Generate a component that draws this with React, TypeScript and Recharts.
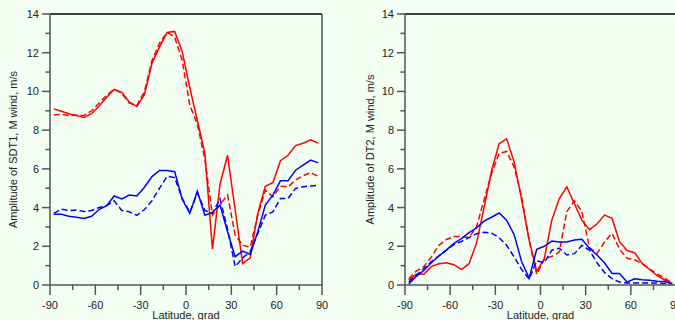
import React from 'react';
import { LineChart, Line, XAxis, YAxis, ReferenceLine } from 'recharts';

// latitude grid of the model output, grad
const latitudes = [
  -87.5, -82.5, -77.5, -72.5, -67.5, -62.5, -57.5, -52.5, -47.5, -42.5, -37.5, -32.5,
  -27.5, -22.5, -17.5, -12.5, -7.5, -2.5, 2.5, 7.5, 12.5, 17.5, 22.5, 27.5,
  32.5, 37.5, 42.5, 47.5, 52.5, 57.5, 62.5, 67.5, 72.5, 77.5, 82.5, 87.5,
];

// SDT1 amplitude, m/s
const sdt1RedSolid = [
  9.1, 8.98, 8.85, 8.75, 8.65, 8.85, 9.25, 9.7, 10.1, 9.95, 9.45, 9.22,
  9.85, 11.45, 12.3, 13.05, 13.1, 12.05, 10.2, 8.5, 6.8, 1.85, 5.2, 6.7,
  3.9, 1.1, 1.4, 3.7, 5.1, 5.28, 6.42, 6.7, 7.2, 7.32, 7.5, 7.33,
];
const sdt1RedDashed = [
  8.78, 8.82, 8.75, 8.78, 8.75, 9.0, 9.4, 9.8, 10.12, 9.9, 9.4, 9.28,
  10.0, 11.6, 12.5, 13.05, 12.8, 11.6, 9.3, 8.3, 6.5, 3.6, 4.15, 4.65,
  2.6, 2.05, 1.95, 3.6, 4.9, 4.55, 5.1, 5.07, 5.42, 5.65, 5.8, 5.62,
];
const sdt1BlueSolid = [
  3.65, 3.65, 3.55, 3.5, 3.44, 3.55, 3.9, 4.1, 4.6, 4.45, 4.65, 4.6,
  5.05, 5.6, 5.92, 5.92, 5.85, 4.43, 3.7, 4.85, 3.6, 3.75, 4.13, 2.75,
  1.46, 1.75, 1.58, 2.75, 4.13, 4.64, 5.38, 5.38, 5.93, 6.19, 6.45, 6.31,
];
const sdt1BlueDashed = [
  3.7, 3.92, 3.85, 3.87, 3.8, 3.85, 4.0, 4.1, 4.35, 3.85, 3.78, 3.6,
  3.9, 4.35, 5.0, 5.62, 5.55, 4.47, 3.75, 4.75, 3.85, 3.7, 4.45, 2.9,
  0.95, 1.4, 1.72, 2.66, 3.61, 3.78, 4.47, 4.47, 4.99, 5.07, 5.12, 5.15,
];

// DT2 amplitude, m/s
const dt2RedSolid = [
  0.25, 0.55, 0.55, 0.95, 1.1, 1.15, 1.05, 0.8, 1.1, 2.15, 4.0, 5.9,
  7.3, 7.55, 6.35, 4.4, 2.3, 0.7, 1.35, 3.35, 4.47, 5.07, 4.2, 3.35,
  2.86, 3.15, 3.61, 3.44, 2.24, 1.78, 1.67, 1.12, 0.8, 0.48, 0.26, 0.08,
];
const dt2RedDashed = [
  0.32, 0.72, 0.95, 1.45, 2.05, 2.35, 2.5, 2.5, 2.45, 3.0, 4.4, 5.75,
  6.8, 6.9, 6.1, 4.55, 2.3, 0.55, 1.35, 1.48, 1.7, 3.8, 4.35, 3.8,
  1.95, 1.62, 2.22, 2.67, 1.85, 1.38, 1.3, 1.1, 0.82, 0.58, 0.35, 0.1,
];
const dt2BlueSolid = [
  0.05, 0.45, 0.75, 1.15, 1.5, 1.8, 2.15, 2.4, 2.7, 2.95, 3.3, 3.5,
  3.72, 3.35, 2.6, 1.2, 0.35, 1.85, 2.0, 2.27, 2.22, 2.22, 2.32, 2.36,
  1.9, 1.55, 1.15, 0.6, 0.6, 0.15, 0.32, 0.27, 0.25, 0.2, 0.18, 0.05,
];
const dt2BlueDashed = [
  0.15, 0.5, 0.85, 1.2, 1.5, 1.8, 2.1, 2.25, 2.45, 2.65, 2.72, 2.68,
  2.45, 2.05, 1.45, 0.8, 0.3, 1.25, 1.15, 1.8, 1.9, 1.55, 1.62, 2.05,
  1.8, 1.15, 0.65, 0.33, 0.15, 0.1, 0.1, 0.1, 0.1, 0.1, 0.08, 0.05,
];

const xTicks = [-90, -75, -60, -45, -30, -15, 0, 15, 30, 45, 60, 75, 90];
const yTicks = [0, 1, 2, 3, 4, 5, 6, 7, 8, 9, 10, 11, 12, 13, 14];

const FONT = '"Liberation Sans", Arial, sans-serif';
const AXIS = '#555';
const TEXT = '#222';

const buildRows = (a: number[], b: number[], c: number[], d: number[]) =>
  latitudes.map((lat, i) => ({
    lat,
    redSolid: a[i],
    redDashed: b[i],
    blueSolid: c[i],
    blueDashed: d[i],
  }));

const YTick = (props: any) => {
  const { x, y, payload } = props;
  const v = payload.value;
  const major = v % 2 === 0;
  return (
    <g>
      <line x1={x - (major ? 8 : 4.5)} x2={x} y1={y} y2={y} stroke={AXIS} strokeWidth={1.5} />
      {major && (
        <text x={x - 11} y={y} dy={4} textAnchor="end" fontSize={11} fill={TEXT} fontFamily={FONT}>
          {v}
        </text>
      )}
    </g>
  );
};

const XTick = (props: any) => {
  const { x, y, payload } = props;
  const v = payload.value;
  const major = v % 30 === 0;
  return (
    <g>
      <line x1={x} x2={x} y1={y} y2={y + (major ? 10 : 5)} stroke={AXIS} strokeWidth={1.5} />
      {major && (
        <text x={x} y={y + 24} textAnchor="middle" fontSize={11} fill={TEXT} fontFamily={FONT}>
          {v}
        </text>
      )}
    </g>
  );
};

const Panel = ({ rows, yLabel, width, yWidth, rightMargin, labelOffset }: any) => (
  <LineChart
    width={width}
    height={320}
    data={rows}
    margin={{ top: 14, right: rightMargin, left: 0, bottom: 0 }}
  >
    <XAxis
      dataKey="lat"
      type="number"
      domain={[-90, 90]}
      ticks={xTicks}
      interval={0}
      height={35}
      tickSize={0}
      tickMargin={0}
      tickLine={false}
      tick={XTick}
      axisLine={{ stroke: AXIS, strokeWidth: 1.5 }}
      label={{ value: 'Latitude, grad', position: 'insideBottom', offset: 1, fill: TEXT, fontSize: 11, fontFamily: FONT }}
    />
    <YAxis
      type="number"
      domain={[0, 14]}
      ticks={yTicks}
      interval={0}
      width={yWidth}
      tickSize={0}
      tickMargin={0}
      tickLine={false}
      tick={YTick}
      axisLine={{ stroke: AXIS, strokeWidth: 1.5 }}
      label={{
        value: yLabel,
        angle: -90,
        position: 'insideLeft',
        offset: labelOffset,
        fill: TEXT,
        fontSize: 11,
        fontFamily: FONT,
        style: { textAnchor: 'middle' },
      }}
    />
    <ReferenceLine y={14} stroke="#000" strokeWidth={1.5} />
    <ReferenceLine x={90} stroke={AXIS} strokeWidth={1.5} />
    <Line type="linear" dataKey="redSolid" stroke="#ff0000" strokeWidth={1.5} dot={false} isAnimationActive={false} />
    <Line type="linear" dataKey="redDashed" stroke="#ff0000" strokeWidth={1.5} strokeDasharray="6 3" dot={false} isAnimationActive={false} />
    <Line type="linear" dataKey="blueSolid" stroke="#0000ff" strokeWidth={1.5} dot={false} isAnimationActive={false} />
    <Line type="linear" dataKey="blueDashed" stroke="#0000ff" strokeWidth={1.5} strokeDasharray="6 3" dot={false} isAnimationActive={false} />
  </LineChart>
);

export default function App() {
  const sdt1Rows = buildRows(sdt1RedSolid, sdt1RedDashed, sdt1BlueSolid, sdt1BlueDashed);
  const dt2Rows = buildRows(dt2RedSolid, dt2RedDashed, dt2BlueSolid, dt2BlueDashed);
  return (
    <div
      style={{
        position: 'relative',
        width: 675,
        height: 320,
        overflow: 'hidden',
        background: '#f3fff3',
        fontFamily: FONT,
      }}
    >
      <style>{'body{margin:0}'}</style>
      <div style={{ position: 'absolute', left: 0, top: 0 }}>
        <Panel rows={sdt1Rows} yLabel="Amplitude of SDT1, M wind, m/s" width={340} yWidth={50} rightMargin={18} labelOffset={13} />
      </div>
      <div style={{ position: 'absolute', left: 340, top: 0 }}>
        <Panel rows={dt2Rows} yLabel="Amplitude of DT2, M wind, m/s" width={345} yWidth={65} rightMargin={9} labelOffset={30} />
      </div>
    </div>
  );
}
